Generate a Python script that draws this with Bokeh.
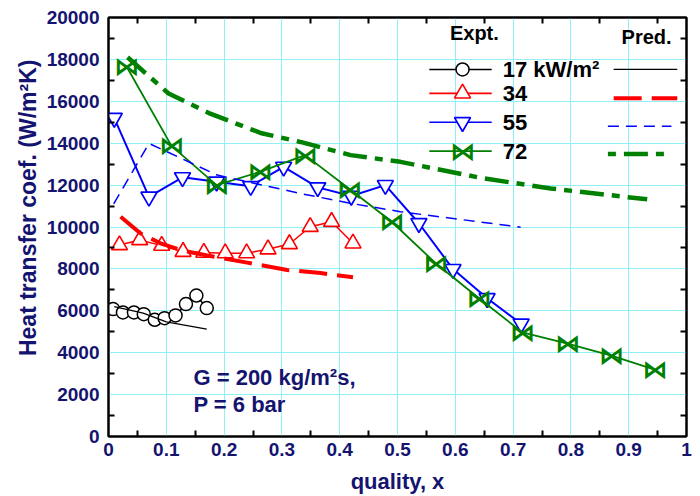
from bokeh.plotting import figure
from bokeh.models import Range1d, LinearAxis, FixedTicker, NumeralTickFormatter, Label
from bokeh.core.properties import value
from bokeh.embed import file_html
from bokeh.resources import INLINE

# ---------------- data ----------------
x_ticks = [0, 0.1, 0.2, 0.3, 0.4, 0.5, 0.6, 0.7, 0.8, 0.9, 1.0]
x_minor = [0.05, 0.15, 0.25, 0.35, 0.45, 0.55, 0.65, 0.75, 0.85, 0.95]
y_ticks = [0, 2000, 4000, 6000, 8000, 10000, 12000, 14000, 16000, 18000, 20000]
y_minor = [1000, 3000, 5000, 7000, 9000, 11000, 13000, 15000, 17000, 19000]

# experiments
x17 = [0.008, 0.025, 0.044, 0.061, 0.080, 0.097, 0.116, 0.134, 0.152, 0.170]
h17 = [6080, 5920, 5920, 5840, 5570, 5650, 5780, 6320, 6730, 6130]
x34 = [0.019, 0.054, 0.092, 0.129, 0.165, 0.202, 0.239, 0.276, 0.313, 0.349, 0.386, 0.423]
h34 = [9140, 9380, 9110, 8820, 8780, 8750, 8750, 8940, 9190, 10010, 10250, 9220]
x55 = [0.010, 0.070, 0.128, 0.187, 0.246, 0.303, 0.362, 0.420, 0.479, 0.537, 0.596, 0.655, 0.714]
h55 = [15200, 11440, 12370, 12160, 11950, 12870, 11890, 11480, 12000, 10180, 7990, 6600, 5380]
x72 = [0.031, 0.109, 0.187, 0.262, 0.340, 0.417, 0.490, 0.566, 0.641, 0.716, 0.794, 0.870, 0.945]
h72 = [17670, 13870, 12000, 12630, 13430, 11810, 10250, 8270, 6600, 4970, 4430, 3860, 3190]

# predictions
xp17 = [0.01, 0.06, 0.10, 0.17]
hp17 = [6200, 5890, 5470, 5130]
xp34 = [0.021, 0.055, 0.090, 0.130, 0.171, 0.240, 0.309, 0.367, 0.423]
hp34 = [10490, 9700, 9220, 8860, 8640, 8300, 7950, 7800, 7600]
xp55 = [0.009, 0.070, 0.188, 0.332, 0.419, 0.505, 0.713]
hp55 = [11100, 13990, 12480, 11600, 11130, 10730, 9990]
xp72 = [0.033, 0.104, 0.176, 0.263, 0.332, 0.419, 0.505, 0.649, 0.765, 0.932]
hp72 = [18100, 16370, 15410, 14490, 14060, 13430, 13110, 12320, 11840, 11320]

series_labels = ["17 kW/m\u00b2", "34", "55", "72"]

# ---------------- styling ----------------
NAVY = "#141470"
GRID = "#8ff0f8"
BLACK, RED, BLUE, GREEN = "#000000", "#ff0000", "#0000ff", "#008000"
FONT = "Liberation Sans"
BOW = "\u22c8"
BOW_SIZE = "25px"

p = figure(width=700, height=496, x_range=Range1d(0, 1), y_range=Range1d(0, 20000),
           output_backend="svg", toolbar_location=None,
           min_border_left=108, min_border_right=14, min_border_top=17, min_border_bottom=59,
           background_fill_color="white", border_fill_color="white")
p.outline_line_color = "black"
p.outline_line_width = 2

bottom = p.below[0]
left = p.left[0]

xtk = FixedTicker(ticks=x_ticks, minor_ticks=x_minor)
ytk = FixedTicker(ticks=y_ticks, minor_ticks=y_minor)
bottom.ticker = xtk
left.ticker = ytk
bottom.formatter = NumeralTickFormatter(format="0.[0]")
left.formatter = NumeralTickFormatter(format="0")
p.xgrid.ticker = xtk
p.ygrid.ticker = ytk
for g in (p.xgrid, p.ygrid):
    g.grid_line_color = GRID
    g.grid_line_width = 1

top = LinearAxis(ticker=xtk, major_label_overrides={t: "" for t in x_ticks})
right = LinearAxis(ticker=ytk, major_label_overrides={t: "" for t in y_ticks})
p.add_layout(top, "above")
p.add_layout(right, "right")

for ax in (bottom, left, top, right):
    ax.major_tick_in = 0
    ax.major_tick_out = 0
    ax.minor_tick_in = 6
    ax.minor_tick_out = 0
    ax.minor_tick_line_width = 2
    ax.minor_tick_line_color = "black"
    ax.axis_line_width = 2
    ax.axis_line_color = "black"
    ax.major_label_text_font = FONT
    ax.major_label_text_font_style = "bold"
    ax.major_label_text_color = NAVY
    ax.major_label_text_font_size = "19px"

for ax in (top, right):
    ax.major_label_standoff = 0

bottom.major_label_standoff = 6
left.major_label_standoff = 9

bottom.axis_label = "quality, x"
left.axis_label = "\u00a0" * 6 + "Heat transfer coef. (W/m\u00b2K)"
for ax in (bottom, left):
    ax.axis_label_text_font = FONT
    ax.axis_label_text_font_style = "bold"
    ax.axis_label_text_color = NAVY
bottom.axis_label_text_font_size = "22px"
left.axis_label_text_font_size = "23px"
bottom.axis_label_standoff = 10
left.axis_label_standoff = 3

# ---------------- experiments ----------------
p.line(x17, h17, line_color=BLACK, line_width=1.5)
p.scatter(x17, h17, marker="circle", size=13, line_color=BLACK, fill_color="white", line_width=1.5)
p.line(x34, h34, line_color=RED, line_width=1.5)
p.scatter(x34, h34, marker="triangle", size=16, line_color=RED, fill_color="white", line_width=1.6)
p.line(x55, h55, line_color=BLUE, line_width=2)
p.scatter(x55, h55, marker="inverted_triangle", size=16, line_color=BLUE, fill_color="white", line_width=1.7)
p.line(x72, h72, line_color=GREEN, line_width=1.8)
p.text(x=x72, y=h72, text=value(BOW), text_font=value("DejaVu Sans"), text_font_size=BOW_SIZE,
       text_font_style="bold", text_color=GREEN, text_align="center", text_baseline="middle")

# ---------------- predictions ----------------
p.line(xp17, hp17, line_color=BLACK, line_width=1.3)
p.line(xp34, hp34, line_color=RED, line_width=4, line_dash="28 10")
p.line(xp55, hp55, line_color=BLUE, line_width=1.5, line_dash="11 7")
p.line(xp72, hp72, line_color=GREEN, line_width=4.5, line_dash="24 8 8 8")

# ---------------- legend (drawn by hand) ----------------
lg_x0, lg_x1, lg_mx, lg_tx = 0.555, 0.663, 0.6125, 0.682
pr_x0, pr_x1 = 0.874, 0.984
row_y = [17520, 16380, 15000, 13620]
pred_y = [17520, 16140, 14810, 13480]

def hdr(x, y, t):
    p.add_layout(Label(x=x, y=y, text=t, text_font=FONT, text_font_style="bold",
                       text_font_size="20px", text_color="black",
                       text_align="center", text_baseline="middle"))

hdr(0.633, 19240, "Expt.")
hdr(0.931, 19050, "Pred.")

colors = [BLACK, RED, BLUE, GREEN]
for i, (c, lab) in enumerate(zip(colors, series_labels)):
    p.line([lg_x0, lg_x1], [row_y[i], row_y[i]], line_color=c, line_width=1.6)
    p.add_layout(Label(x=lg_tx, y=row_y[i], text=lab, text_font=FONT, text_font_style="bold",
                       text_font_size="22px", text_color="black", text_align="left",
                       text_baseline="middle"))

p.scatter([lg_mx], [row_y[0]], marker="circle", size=13, line_color=BLACK, fill_color="white", line_width=1.5)
p.scatter([lg_mx], [row_y[1]], marker="triangle", size=16, line_color=RED, fill_color="white", line_width=1.6)
p.scatter([lg_mx], [row_y[2]], marker="inverted_triangle", size=16, line_color=BLUE, fill_color="white", line_width=1.7)
p.text(x=[lg_mx], y=[row_y[3]], text=value(BOW), text_font=value("DejaVu Sans"), text_font_size=BOW_SIZE,
       text_font_style="bold", text_color=GREEN, text_align="center", text_baseline="middle")

p.line([pr_x0, pr_x1], [pred_y[0]] * 2, line_color=BLACK, line_width=1.3)
p.line([pr_x0, pr_x1], [pred_y[1]] * 2, line_color=RED, line_width=4, line_dash="28 10")
p.line([pr_x0 - 0.01, pr_x1 - 0.01], [pred_y[2]] * 2, line_color=BLUE, line_width=1.5, line_dash="11 7")
p.line([pr_x0 - 0.01, pr_x1 - 0.01], [pred_y[3]] * 2, line_color=GREEN, line_width=4.5, line_dash="8 8 24 8")

# ---------------- condition note ----------------
for y, t in ((2810, "G = 200 kg/m\u00b2s,"), (1520, "P = 6 bar")):
    p.add_layout(Label(x=0.147, y=y, text=t, text_font=FONT, text_font_style="bold",
                       text_font_size="22px", text_color=NAVY, text_align="left",
                       text_baseline="middle"))

open("out.html", "w").write(file_html(p, INLINE))
